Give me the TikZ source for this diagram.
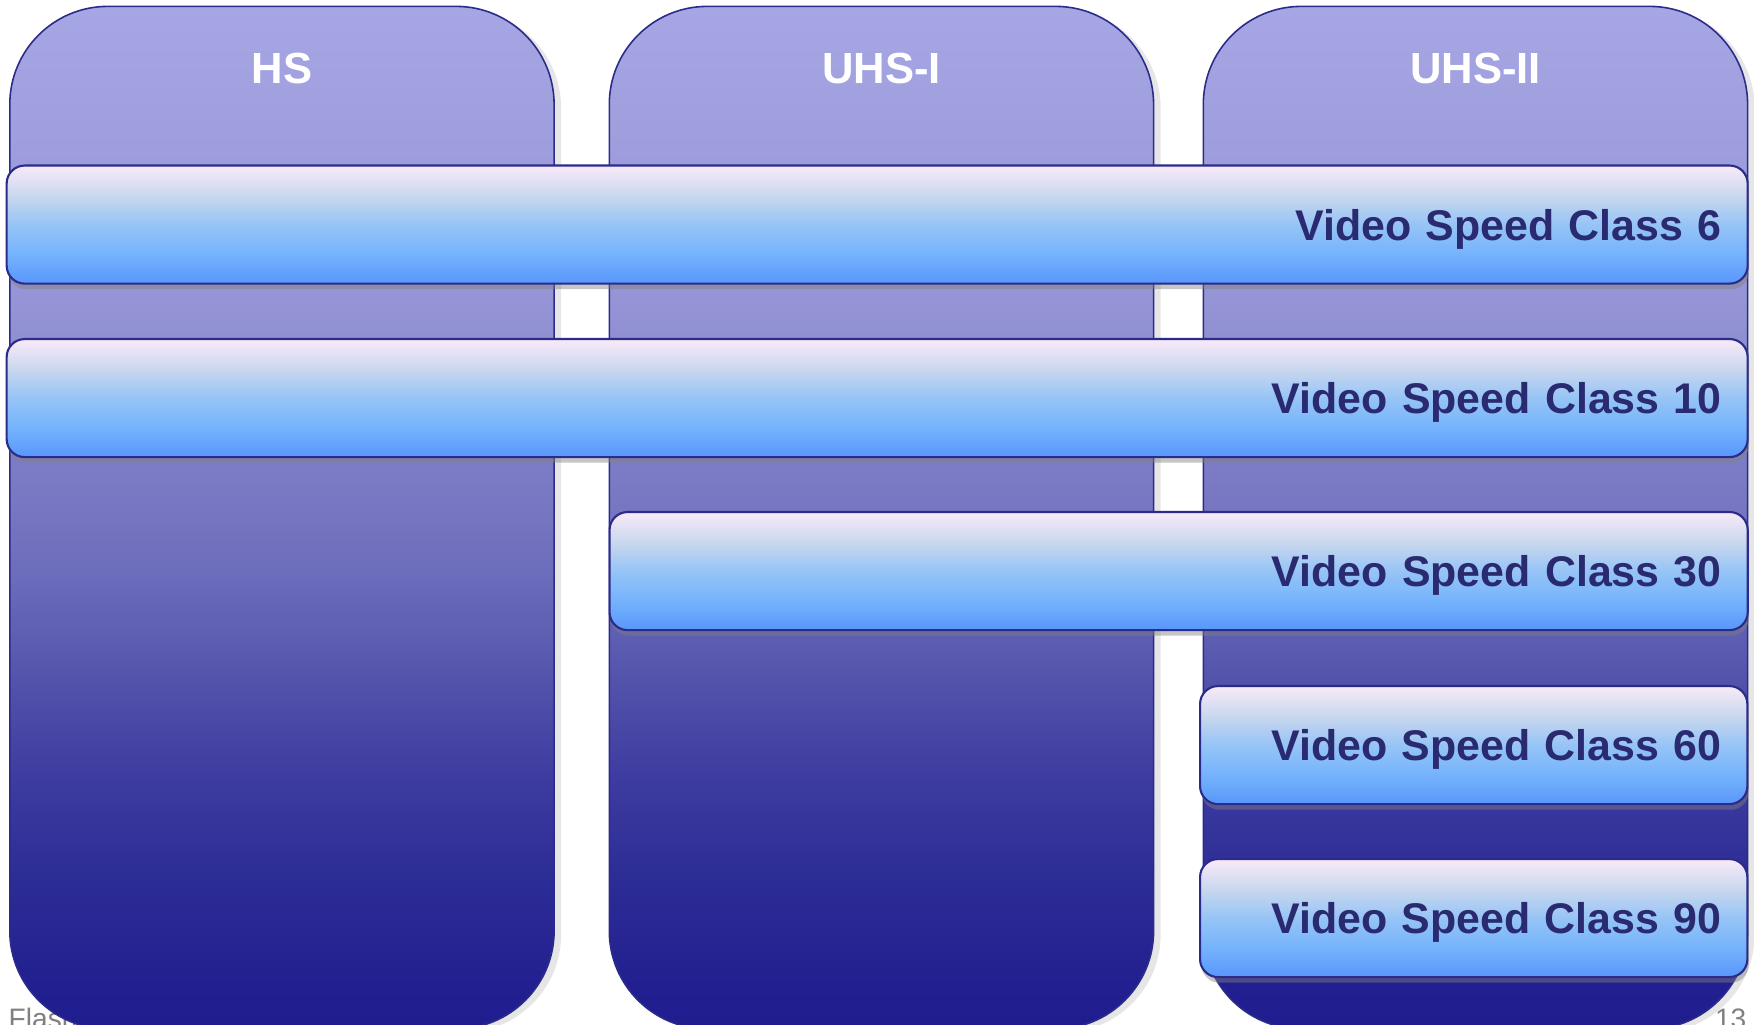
\documentclass[tikz,border=0pt]{standalone}
\usepackage{fontspec}
\setmainfont{Liberation Sans}
\usetikzlibrary{shadows,positioning}

\definecolor{edgeNavy}{RGB}{43,43,138}
\definecolor{barText}{RGB}{42,42,112}
\definecolor{footGray}{RGB}{128,128,128}

% lane fill: light lavender on top, deep navy at the bottom
\pgfdeclareverticalshading{lanefade}{100bp}{%
  color(0bp)=(rgb,255:red,31;green,29;blue,143);
  color(25bp)=(rgb,255:red,31;green,29;blue,143);
  color(27.7bp)=(rgb,255:red,35;green,33;blue,145);
  color(32.6bp)=(rgb,255:red,45;green,45;blue,150);
  color(37.4bp)=(rgb,255:red,62;green,60;blue,160);
  color(42.3bp)=(rgb,255:red,84;green,84;blue,172);
  color(47.1bp)=(rgb,255:red,108;green,108;blue,188);
  color(53.6bp)=(rgb,255:red,127;green,127;blue,200);
  color(61.2bp)=(rgb,255:red,150;green,150;blue,215);
  color(75bp)=(rgb,255:red,166;green,166;blue,228);
  color(100bp)=(rgb,255:red,166;green,166;blue,228)}

% bar fill: pale pink on top, bright blue at the bottom
\pgfdeclareverticalshading{barfade}{100bp}{%
  color(0bp)=(rgb,255:red,88;green,150;blue,252);
  color(25bp)=(rgb,255:red,88;green,150;blue,252);
  color(38bp)=(rgb,255:red,118;green,180;blue,252);
  color(50bp)=(rgb,255:red,150;green,196;blue,246);
  color(62bp)=(rgb,255:red,200;green,215;blue,238);
  color(75bp)=(rgb,255:red,249;green,234;blue,248);
  color(100bp)=(rgb,255:red,249;green,234;blue,248)}

\tikzset{
  lane/.style={draw=edgeNavy, line width=0.45pt, rounded corners=0.98cm,
    shading=lanefade, anchor=north west,
    minimum width=5.44cm, minimum height=10.22cm,
    drop shadow={shadow xshift=2pt, shadow yshift=-1pt, opacity=0.2}},
  lanehead/.style={text=white, font=\bfseries\fontsize{12.4}{15}\selectfont},
  speedbar/.style={draw=edgeNavy, line width=0.6pt, rounded corners=0.18cm,
    shading=barfade, anchor=north west, minimum height=1.18cm,
    inner xsep=0.26cm, minimum width=#1cm, text width=#1cm-0.52cm,
    align=right, text depth=0pt,
    text=barText, font=\bfseries\fontsize{12.2}{15}\selectfont,
    drop shadow={shadow xshift=0.4pt, shadow yshift=-1.6pt, opacity=0.45}},
  footer/.style={text=footGray, font=\fontsize{8}{10}\selectfont, inner sep=0pt}
}

\begin{document}
\begin{tikzpicture}[x=0.01cm, y=-0.01cm]
  \useasboundingbox (0,0) rectangle (1754,1025);

  % slide footer, mostly hidden behind the lanes
  \node[footer, anchor=base west] (foot) at (8,1028) {Flash};
  \node[footer, anchor=base east] (page) at (1747,1028) {13};

  % bus interface lanes
  \node[lane] (hs) at (9,5.6) {};
  \node[lane] (uhs1) at (608.5,5.6) {};
  \node[lane] (uhs2) at (1202.5,5.6) {};
  \node[lanehead] (hslbl) at ([yshift=-0.63cm]hs.north) {HS};
  \node[lanehead] (uhs1lbl) at ([yshift=-0.63cm]uhs1.north) {UHS-I};
  \node[lanehead] (uhs2lbl) at ([yshift=-0.63cm]uhs2.north) {UHS-II};

  % video speed classes
  \node[speedbar=17.40] (v6) at (5.6,164.5) {Video Speed Class 6};
  \node[speedbar=17.40] (v10) at (5.6,338) {Video Speed Class 10};
  \node[speedbar=11.375] (v30) at (608.5,511) {Video Speed Class 30};
  \node[speedbar=5.47] (v60) at (1199,685) {Video Speed Class 60};
  \node[speedbar=5.47] (v90) at (1199,858) {Video Speed Class 90};
\end{tikzpicture}
\end{document}
